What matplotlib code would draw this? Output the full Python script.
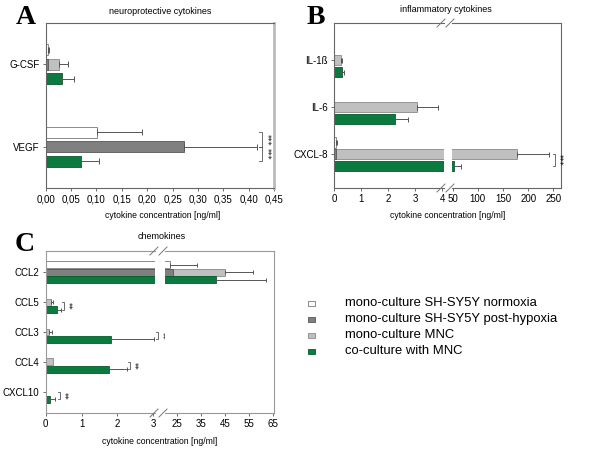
import numpy as np
import matplotlib
matplotlib.use("Agg")
import matplotlib.pyplot as plt
from matplotlib.lines import Line2D
from matplotlib.patches import Rectangle
from matplotlib.ticker import FuncFormatter

plt.rcParams['font.family'] = ['Liberation Sans', 'DejaVu Sans']

# ---------------- data ----------------
series_names = ["mono-culture SH-SY5Y normoxia", "mono-culture SH-SY5Y post-hypoxia",
                "mono-culture MNC", "co-culture with MNC"]

a_cats = ["G-CSF", "VEGF"]
a_normoxia = [0.004, 0.102]
a_normoxia_err = [0.003, 0.088]
a_hypoxia = [0.004, 0.273]
a_hypoxia_err = [0.0, 0.143]
a_mnc = [0.026, 0.0]
a_mnc_err = [0.017, 0.0]
a_co = [0.033, 0.070]
a_co_err = [0.022, 0.036]

b_cats = ["IL-1ß", "IL-6", "CXCL-8"]
b_normoxia = [0.0, 0.0, 0.05]
b_normoxia_err = [0.0, 0.0, 0.05]
b_hypoxia = [0.0, 0.0, 0.08]
b_hypoxia_err = [0.0, 0.0, 0.0]
b_mnc = [0.23, 3.05, 178.0]
b_mnc_err = [0.04, 0.78, 63.0]
b_co = [0.27, 2.25, 52.0]
b_co_err = [0.10, 0.49, 15.0]

c_cats = ["CCL2", "CCL5", "CCL3", "CCL4", "CXCL10"]
c_normoxia = [22.2, 0.02, 0.0, 0.0, 0.0]
c_normoxia_err = [11.1, 0.0, 0.0, 0.0, 0.0]
c_hypoxia = [23.3, 0.01, 0.0, 0.0, 0.01]
c_hypoxia_err = [0.0, 0.0, 0.0, 0.0, 0.0]
c_mnc = [44.9, 0.14, 0.09, 0.19, 0.02]
c_mnc_err = [11.5, 0.07, 0.08, 0.0, 0.0]
c_co = [41.2, 0.31, 1.82, 1.76, 0.12]
c_co_err = [20.9, 0.11, 1.21, 0.50, 0.14]

# ---------------- style ----------------
face = ["white", "#808080", "#c0c0c0", "#0b7a3e"]
edge = ["#7a7a7a", "#555555", "#8a8a8a", "#075a2c"]
slot = [-1, 0, 0, 1]          # bar slot for each series
draw_order = [0, 2, 1, 3]     # light gray below dark gray in the shared slot

W, H = 600, 450
fig = plt.figure(figsize=(6, 4.5), dpi=100)


def px(l, t, r, b):
    return [l / W, 1 - b / H, (r - l) / W, (b - t) / H]


def fx(x):
    return x / W


def fy(y):
    return 1 - y / H


def draw_bars(ax, cats, vals, errs, d, h, cap):
    y = np.arange(len(cats))
    for i in draw_order:
        v = np.array(vals[i], dtype=float)
        e = np.array(errs[i], dtype=float)
        yy = y + slot[i] * d
        ax.barh(yy, v, height=h, color=face[i], edgecolor=edge[i], linewidth=0.6, zorder=2)
        m = e > 0
        if m.any():
            ax.errorbar(v[m], yy[m], xerr=[np.zeros(m.sum()), e[m]], fmt='none',
                        ecolor="#555555", elinewidth=0.7, capsize=cap, capthick=0.7, zorder=3)


def style_axis(ax, cats, ylim, show_y=True):
    ax.set_ylim(*ylim)
    ax.set_yticks(np.arange(len(cats)))
    if show_y:
        ax.set_yticklabels(cats, fontsize=7)
        ax.tick_params(axis='y', length=2.5, width=0.6, color="#555555", pad=2)
    else:
        ax.set_yticks([])
    ax.tick_params(axis='x', labelsize=7, length=2.5, width=0.6, color="#555555", pad=2)
    for s in ax.spines.values():
        s.set_color("#666666")
        s.set_linewidth(0.8)


def sig(ax, cat, s0, s1, d, x, text, xoff, dx):
    y0 = cat + s0 * d
    y1 = cat + s1 * d
    ax.plot([x - dx, x, x, x - dx], [y0, y0, y1, y1], color="#555555", lw=0.6,
            clip_on=False, zorder=4)
    ax.text(x + xoff, (y0 + y1) / 2, text, rotation=270, fontsize=5.5, ha='center',
            va='center', clip_on=False, family=['DejaVu Sans'], linespacing=0.8)


def break_marks(xs, ys, size=4):
    for y in ys:
        for x in xs:
            fig.add_artist(Line2D([fx(x - size), fx(x + size)], [fy(y + size), fy(y - size)],
                                  color="#777777", lw=0.7))


# ---------------- panel A ----------------
axA = fig.add_axes(px(45.7, 23, 274, 188))
a_vals = [a_normoxia, a_hypoxia, a_mnc, a_co]
a_errs = [a_normoxia_err, a_hypoxia_err, a_mnc_err, a_co_err]
dA, hA = 0.177, 0.134
draw_bars(axA, a_cats, a_vals, a_errs, dA, hA, 2)
style_axis(axA, a_cats, (1.5, -0.5))
axA.set_xlim(0, 0.45)
axA.set_xticks(np.arange(0, 0.451, 0.05))
axA.xaxis.set_major_formatter(FuncFormatter(lambda v, p: f"{v:.2f}".replace('.', ',')))
axA.spines['right'].set_color("#bbbbbb")
axA.spines['right'].set_linewidth(2)
sig(axA, 1, -1, 0, dA, 0.426, "***", 0.009, 0.006)
sig(axA, 1, 0, 1, dA, 0.426, "***", 0.009, 0.006)

# ---------------- panel B ----------------
axB1 = fig.add_axes(px(334.3, 23, 443.7, 188))
axB2 = fig.add_axes(px(452, 23, 561, 188))
b_vals = [b_normoxia, b_hypoxia, b_mnc, b_co]
b_errs = [b_normoxia_err, b_hypoxia_err, b_mnc_err, b_co_err]
dB, hB = 0.25, 0.22
for ax, show in ((axB1, True), (axB2, False)):
    draw_bars(ax, b_cats, b_vals, b_errs, dB, hB, 1.8)
    style_axis(ax, b_cats, (2.72, -0.79), show)
axB1.set_xlim(0, 4.05)
axB1.set_xticks([0, 1, 2, 3, 4])
axB2.set_xlim(48.6, 265.3)
axB2.set_xticks([50, 100, 150, 200, 250])
axB1.spines['right'].set_visible(False)
axB2.spines['left'].set_visible(False)
sig(axB2, 2, 0, 1, dB, 253, "***", 6, 4)
break_marks([441, 450], [23, 188])

# ---------------- panel C ----------------
axC1 = fig.add_axes(px(45.7, 251, 155, 413))
axC2 = fig.add_axes(px(165, 251, 274, 413))
c_vals = [c_normoxia, c_hypoxia, c_mnc, c_co]
c_errs = [c_normoxia_err, c_hypoxia_err, c_mnc_err, c_co_err]
dC, hC = 0.25, 0.23
for ax, show in ((axC1, True), (axC2, False)):
    draw_bars(ax, c_cats, c_vals, c_errs, dC, hC, 1.6)
    style_axis(ax, c_cats, (4.71, -0.71), show)
    for s in ax.spines.values():
        s.set_color("#999999")
axC1.set_xlim(0, 3.045)
axC1.set_xticks([0, 1, 2, 3])
axC2.set_xlim(20.16, 65.26)
axC2.set_xticks([25, 35, 45, 55, 65])
axC1.spines['right'].set_visible(False)
axC2.spines['left'].set_visible(False)
sig(axC1, 1, 0, 1, dC, 0.50, "**", 0.09, 0.05)
sig(axC1, 2, 0, 1, dC, 3.12, "**", 0.09, 0.05)
sig(axC1, 3, 0, 1, dC, 2.35, "**", 0.09, 0.05)
sig(axC1, 4, 0, 1, dC, 0.40, "**", 0.09, 0.05)
break_marks([154, 163], [251, 413])

# ---------------- texts ----------------
fig.text(fx(160), fy(11), "neuroprotective cytokines", fontsize=6.5, ha='center', va='center')
fig.text(fx(446), fy(10), "inflammatory cytokines", fontsize=6.5, ha='center', va='center')
fig.text(fx(162), fy(236), "chemokines", fontsize=6.5, ha='center', va='center')
fig.text(fx(163), fy(216), "cytokine concentration [ng/ml]", fontsize=6.2, ha='center', va='center')
fig.text(fx(448), fy(215), "cytokine concentration [ng/ml]", fontsize=6.2, ha='center', va='center')
fig.text(fx(160), fy(441), "cytokine concentration [ng/ml]", fontsize=6.2, ha='center', va='center')

for letter, x, y in (("A", 26, 17), ("B", 316, 17), ("C", 25, 244)):
    fig.text(fx(x), fy(y), letter, fontsize=20, fontweight='bold', ha='center', va='center',
             family=['Liberation Serif', 'DejaVu Serif'])

# ---------------- legend ----------------
ys = [303, 319, 335, 351]
for i, name in enumerate(series_names):
    fig.add_artist(Rectangle((fx(308), fy(ys[i] + 2.5)), 7 / W, 5 / H, facecolor=face[i],
                             edgecolor=edge[i], linewidth=0.6))
    fig.text(fx(345), fy(ys[i]), name, fontsize=9.4, ha='left', va='center')

fig.savefig("out.png", dpi=100)
